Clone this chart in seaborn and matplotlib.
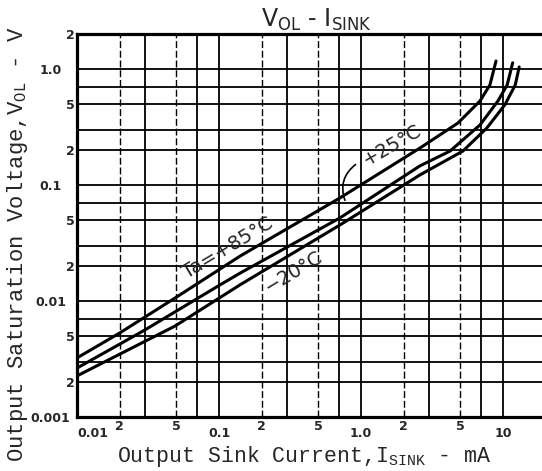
# Datasheet chart: V_OL vs I_SINK at three ambient temperatures
import pandas as pd
import matplotlib
matplotlib.use("Agg")
import matplotlib.pyplot as plt
import seaborn as sns

# values (I in mA, V in volts)
temps = ['+85', '+25', '-20']
i_85 = [0.01, 0.02, 0.049, 0.141, 0.711, 2.6, 4.82, 6.89, 8.09, 8.93]
v_85 = [0.00323, 0.0053, 0.0106, 0.0244, 0.0773, 0.208, 0.342, 0.53, 0.728, 1.17]
i_25 = [0.01, 0.0292, 0.1016, 0.141, 0.711, 2.6, 4.24, 6.89, 9.22, 10.7, 11.7]
v_25 = [0.00264, 0.00551, 0.01375, 0.0174, 0.052, 0.146, 0.196, 0.329, 0.53, 0.728, 1.13]
i_m20 = [0.01, 0.049, 0.141, 0.711, 2.6, 5.22, 7.7, 10.3, 12.2, 13.0]
v_m20 = [0.00226, 0.00608, 0.0138, 0.0452, 0.122, 0.196, 0.31, 0.49, 0.728, 1.04]

x_ticks = [0.01, 0.02, 0.05, 0.1, 0.2, 0.5, 1, 2, 5, 10, 20]
x_tick_labels = ['0.01', '2', '5', '0.1', '2', '5', '1.0', '2', '5', '10', '2']
x_minor = [0.03, 0.07, 0.3, 0.7, 3, 7]
y_ticks = [0.001, 0.002, 0.005, 0.01, 0.02, 0.05, 0.1, 0.2, 0.5, 1, 2]
y_tick_labels = ['0.001', '2', '5', '0.01', '2', '5', '0.1', '2', '5', '1.0', '2']
y_minor = [0.003, 0.007, 0.03, 0.07, 0.3, 0.7]

df = pd.concat([
    pd.DataFrame({'I': i_85, 'V': v_85, 'Ta': temps[0]}),
    pd.DataFrame({'I': i_25, 'V': v_25, 'Ta': temps[1]}),
    pd.DataFrame({'I': i_m20, 'V': v_m20, 'Ta': temps[2]}),
])

sns.set_style("white")
plt.rcParams['font.family'] = ['DejaVu Sans']
plt.rcParams['mathtext.fontset'] = 'custom'
plt.rcParams['mathtext.rm'] = 'Liberation Mono'
plt.rcParams['mathtext.it'] = 'Liberation Mono'

W, H = 542, 471
fig = plt.figure(figsize=(W / 100, H / 100), dpi=100)
# axes runs a little past the right edge, like the cropped scan
ax = fig.add_axes([77 / W, 1 - 417 / H, (560 - 77) / W, (417 - 34) / H])

sns.lineplot(data=df, x='I', y='V', hue='Ta', palette=['black'] * 3,
             estimator=None, sort=False, legend=False, lw=2.2, ax=ax)

ax.set_xscale('log')
ax.set_yscale('log')
ax.set_xlim(0.01, 25.2)
ax.set_ylim(0.001, 2)
ax.set_xlabel('')
ax.set_ylabel('')

ax.set_xticks(x_ticks)
ax.set_xticklabels(x_tick_labels)
ax.set_xticks(x_minor, minor=True)
ax.set_yticks(y_ticks)
ax.set_yticklabels(y_tick_labels)
ax.set_yticks(y_minor, minor=True)
ax.xaxis.set_minor_formatter(matplotlib.ticker.NullFormatter())
ax.yaxis.set_minor_formatter(matplotlib.ticker.NullFormatter())
ax.tick_params(which='both', length=0, labelsize=9)
ax.grid(which='both', color='black', lw=1.3)

for spine in ax.spines.values():
    spine.set_color('black')
    spine.set_linewidth(2.3)

for lab in ax.get_xticklabels() + ax.get_yticklabels():
    lab.set_fontweight('bold')

# decade labels sit lower / further out than the 2 and 5 labels
for tick, lab in zip(ax.xaxis.get_major_ticks(), x_tick_labels):
    if lab in ('2', '5'):
        tick.set_pad(2)
        tick.gridline.set_linestyle((0, (5, 2)))
        tick.gridline.set_linewidth(1.0)
    else:
        tick.set_pad(7)
    if lab == '0.01':
        tick.label1.set_horizontalalignment('left')
for tick, lab in zip(ax.yaxis.get_major_ticks(), y_tick_labels):
    if lab in ('2', '5'):
        tick.set_pad(1.5)
    else:
        tick.set_pad(19)
        tick.label1.set_horizontalalignment('center')

# curve labels
ax.text(0.116, 0.0286, 'Ta=+85°C', rotation=31, rotation_mode='anchor',
        ha='center', va='center', fontsize=14)
ax.text(0.337, 0.0178, '\u221220°C', rotation=31, rotation_mode='anchor',
        ha='center', va='center', fontsize=14)
ax.text(1.65, 0.221, '+25°C', rotation=30, rotation_mode='anchor',
        ha='center', va='center', fontsize=14)
ax.annotate('', xy=(0.783, 0.07), xytext=(0.95, 0.155),
            arrowprops=dict(arrowstyle='-', lw=1.2, color='black',
                            connectionstyle='arc3,rad=0.4'))

fig.text(316 / W, 1 - 27 / H, r'V$_{\mathrm{OL}}$ - I$_{\mathrm{SINK}}$',
         ha='center', va='baseline', fontsize=17, math_fontfamily='dejavusans')
fig.text(304 / W, 1 - 462 / H, r'Output Sink Current,I$_{\mathrm{SINK}}$ - mA',
         ha='center', va='baseline', fontsize=15.5, family='Liberation Mono',
         math_fontfamily='custom')
fig.text(18 / W, 1 - 244 / H, r'Output Saturation Voltage,V$_{\mathrm{OL}}$ - V',
         ha='center', va='center', rotation=90, fontsize=16,
         family='Liberation Mono', math_fontfamily='custom')

fig.savefig('out.png', dpi=100)
